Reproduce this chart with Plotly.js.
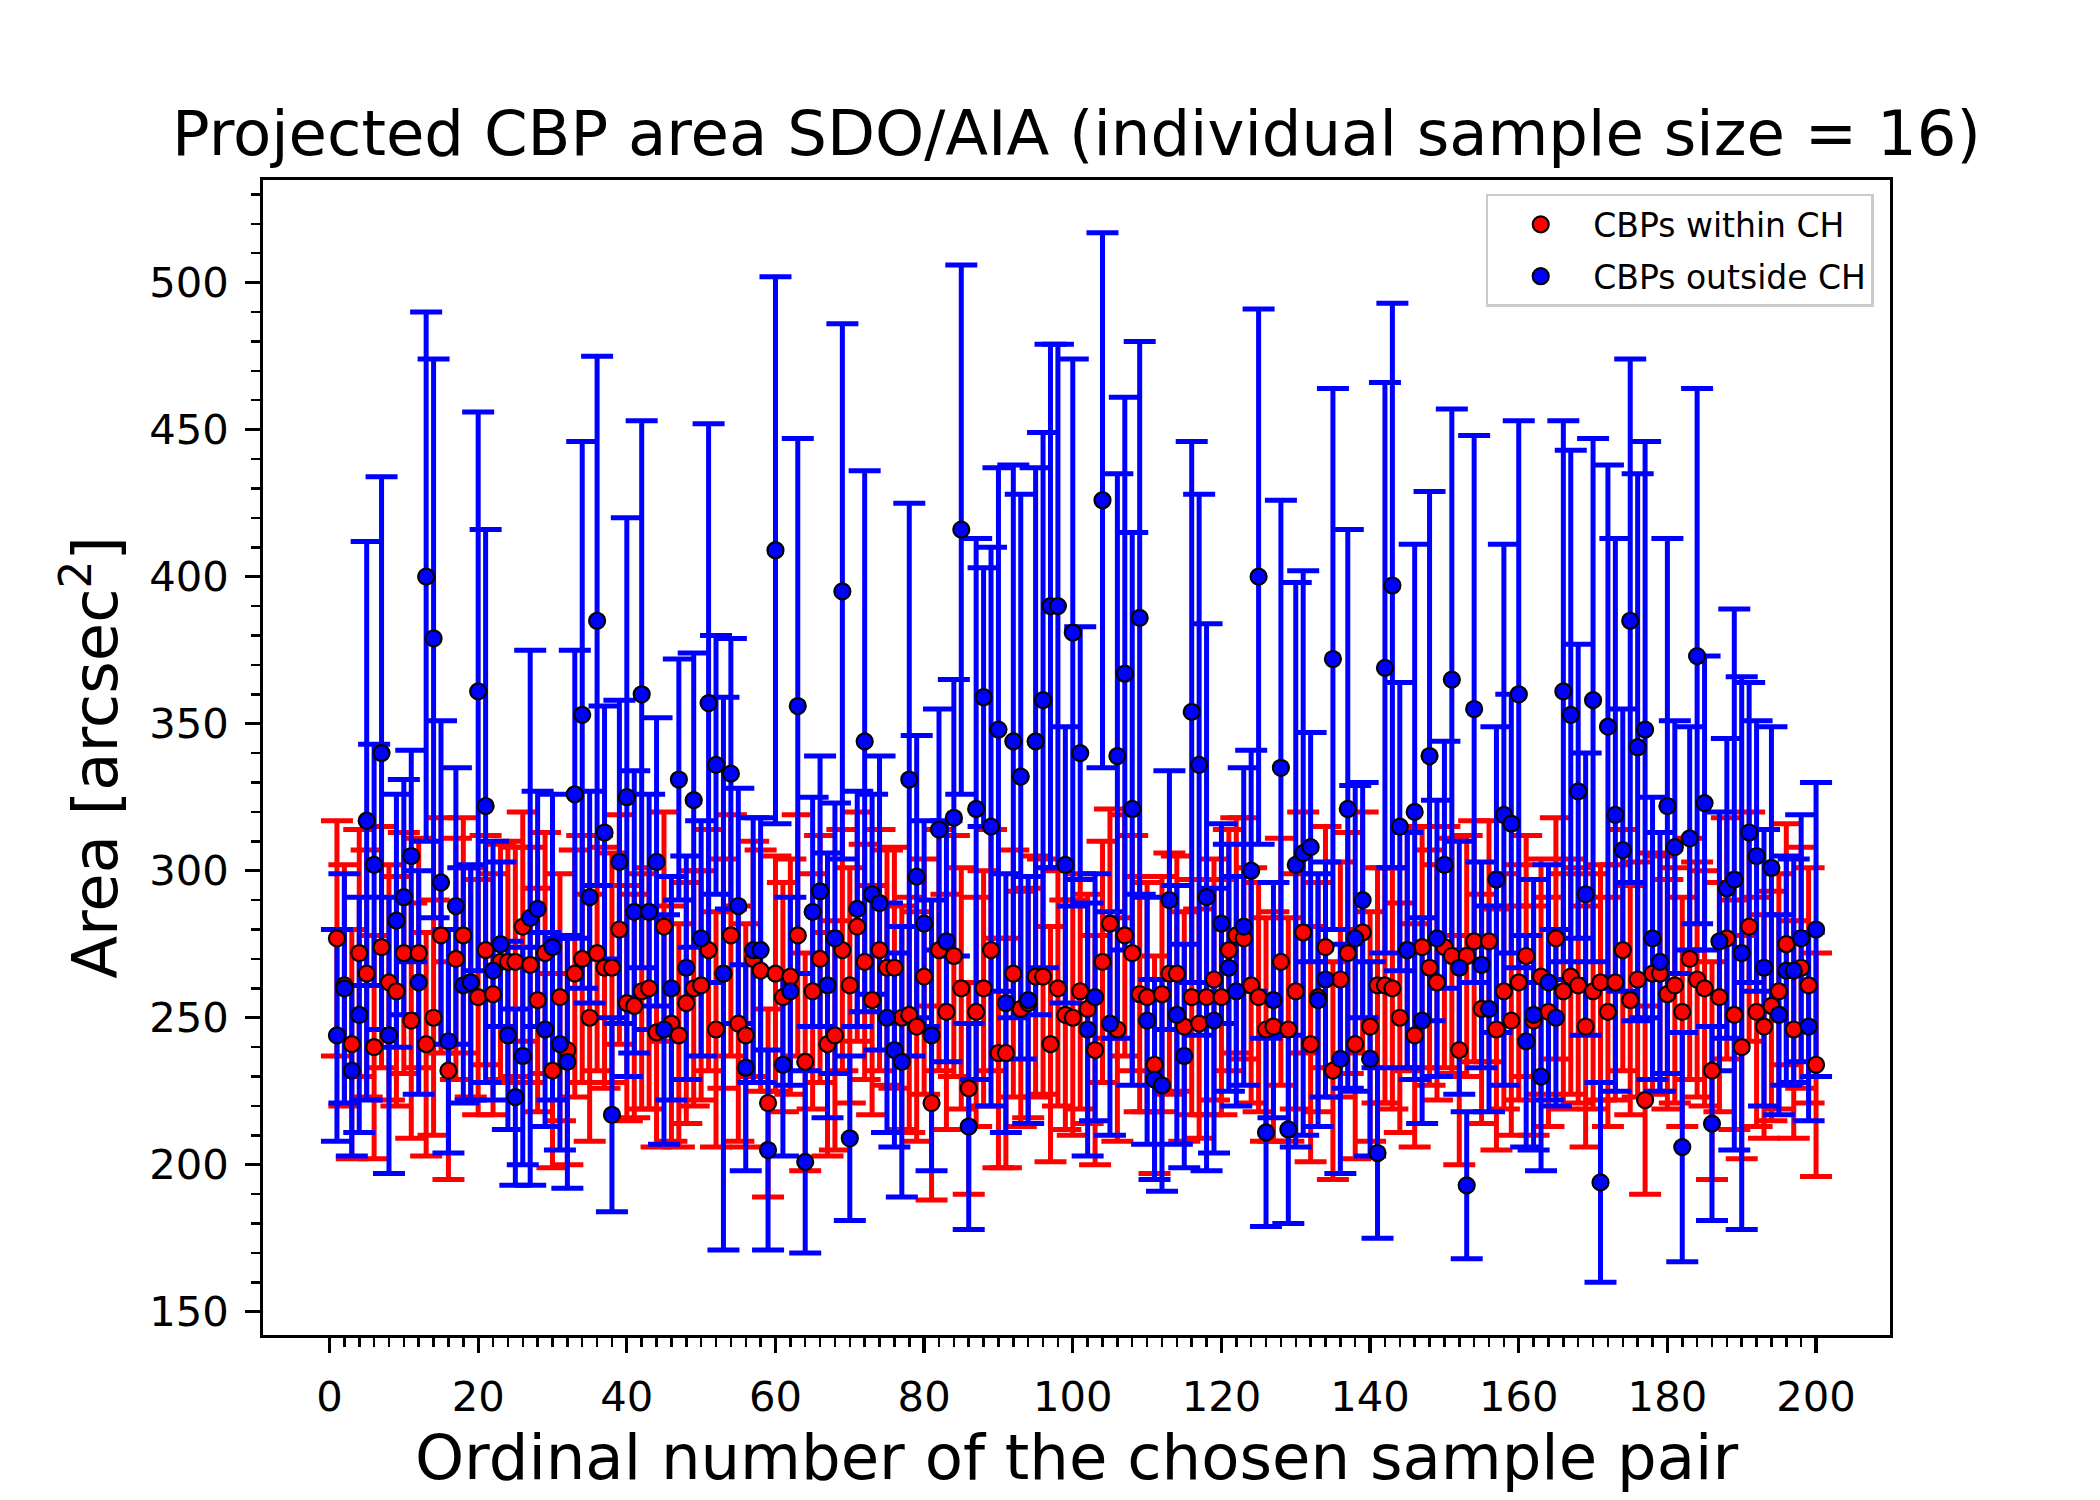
<!DOCTYPE html>
<html>
<head>
<meta charset="utf-8">
<script src="https://cdn.plot.ly/plotly-3.0.1.min.js"></script>
<style>
  html, body { margin: 0; padding: 0; background: #ffffff; }
  #chart { width: 2100px; height: 1500px; }
</style>
</head>
<body>
<div id="chart"></div>
<script>
// mean projected area of each sample (within coronal holes), arcsec^2
var within_ch = [
  277, 261, 241, 272, 265, 240, 274, 262, 259, 272, 249, 272, 241, 250, 278, 232, 270, 278, 262, 257,
  273, 258, 269, 269, 269, 281, 268, 256, 272, 232, 257, 239, 265, 270, 250, 272, 267, 267, 280, 255,
  254, 259, 260, 245, 281, 248, 244, 255, 260, 261, 273, 246, 265, 278, 248, 244, 270, 266, 221, 265,
  257, 264, 278, 235, 259, 270, 241, 244, 273, 261, 281, 269, 256, 273, 267, 267, 250, 251, 247, 264,
  221, 273, 252, 271, 260, 226, 252, 260, 273, 238, 238, 265, 253, 255, 264, 264, 241, 260, 251, 250,
  259, 253, 239, 269, 282, 246, 278, 272, 258, 257, 234, 258, 265, 265, 247, 257, 248, 257, 263, 257,
  273, 278, 277, 261, 257, 246, 247, 269, 246, 259, 279, 241, 257, 274, 232, 263, 272, 241, 279, 247,
  261, 261, 260, 250, 273, 244, 274, 267, 262, 274, 271, 239, 271, 276, 253, 276, 246, 259, 249, 262,
  271, 249, 264, 252, 277, 259, 264, 261, 247, 259, 262, 252, 262, 273, 256, 263, 222, 265, 265, 258,
  261, 252, 270, 263, 260, 232, 257, 277, 251, 240, 281, 252, 247, 254, 259, 275, 246, 267, 261, 234
];
var within_err = [
  40, 41, 39, 42, 42, 38, 41, 40, 39, 41, 40, 39, 38, 40, 40, 37, 41, 40, 39, 40,
  39, 41, 40, 41, 39, 39, 40, 38, 41, 33, 42, 39, 42, 42, 42, 40, 41, 39, 39, 40,
  38, 40, 41, 39, 39, 40, 38, 41, 40, 39, 41, 40, 39, 41, 40, 38, 40, 41, 32, 40,
  39, 40, 41, 37, 40, 42, 38, 39, 41, 40, 39, 40, 39, 41, 40, 41, 38, 40, 39, 40,
  33, 41, 40, 41, 41, 36, 39, 40, 41, 39, 39, 42, 40, 39, 41, 40, 40, 40, 39, 40,
  40, 39, 39, 41, 39, 38, 41, 40, 40, 39, 37, 40, 41, 40, 39, 40, 39, 40, 41, 40,
  41, 40, 41, 40, 39, 38, 39, 42, 38, 40, 41, 40, 39, 41, 37, 40, 41, 39, 41, 39,
  40, 40, 41, 39, 41, 38, 41, 40, 40, 41, 40, 39, 41, 41, 39, 41, 41, 40, 39, 40,
  41, 39, 40, 39, 41, 40, 40, 40, 41, 40, 40, 39, 40, 41, 39, 40, 32, 41, 40, 39,
  40, 39, 41, 40, 40, 37, 39, 41, 39, 38, 39, 39, 38, 39, 40, 41, 37, 41, 40, 38
];

// mean projected area of each sample (outside coronal holes), arcsec^2
var outside_ch = [
  244, 260, 232, 251, 317, 302, 340, 244, 283, 291, 305, 262, 400, 379, 296, 242, 288, 261, 262, 361,
  322, 266, 275, 244, 223, 237, 284, 287, 246, 274, 241, 235, 326, 353, 291, 385, 313, 217, 303, 325,
  286, 360, 286, 303, 246, 260, 331, 267, 324, 277, 357, 336, 265, 333, 288, 233, 273, 273, 205, 409,
  234, 259, 356, 201, 286, 293, 261, 277, 395, 209, 287, 344, 292, 289, 250, 239, 235, 331, 298, 282,
  244, 314, 276, 318, 416, 213, 321, 359, 315, 348, 255, 344, 332, 256, 344, 358, 390, 390, 302, 381,
  340, 246, 257, 426, 248, 339, 367, 321, 386, 249, 229, 227, 290, 251, 237, 354, 336, 291, 249, 282,
  267, 259, 281, 300, 400, 211, 256, 335, 212, 302, 306, 308, 256, 263, 372, 236, 321, 277, 290, 236,
  204, 369, 397, 315, 273, 320, 249, 339, 277, 302, 365, 267, 193, 355, 268, 253, 297, 319, 316, 360,
  242, 251, 230, 262, 250, 361, 353, 327, 292, 358, 194, 349, 319, 307, 385, 342, 348, 277, 269, 322,
  308, 206, 311, 373, 323, 214, 276, 294, 297, 272, 313, 305, 267, 301, 251, 266, 266, 277, 247, 280
];
var outside_err = [
  36, 39, 29, 40, 95, 41, 94, 47, 43, 40, 36, 38, 90, 95, 55, 38, 47, 40, 40, 95,
  94, 44, 28, 32, 30, 37, 91, 40, 33, 52, 36, 43, 49, 93, 36, 90, 43, 33, 55, 95,
  48, 93, 40, 49, 39, 38, 41, 38, 50, 40, 95, 44, 94, 46, 40, 35, 45, 45, 34, 93,
  31, 32, 91, 31, 39, 46, 45, 46, 91, 28, 40, 92, 34, 50, 39, 33, 46, 94, 48, 35,
  46, 41, 41, 47, 90, 35, 92, 44, 95, 89, 44, 94, 96, 42, 93, 91, 89, 89, 47, 93,
  43, 43, 42, 91, 38, 96, 94, 94, 94, 42, 34, 36, 44, 44, 38, 92, 92, 93, 45, 34,
  42, 39, 54, 41, 91, 32, 40, 91, 32, 96, 96, 39, 43, 40, 92, 39, 95, 52, 40, 33,
  29, 97, 96, 49, 40, 91, 35, 90, 47, 42, 92, 43, 25, 93, 35, 35, 52, 92, 44, 93,
  36, 46, 32, 40, 30, 92, 90, 50, 48, 89, 34, 89, 94, 48, 89, 93, 98, 48, 44, 91,
  43, 39, 38, 91, 50, 33, 44, 51, 92, 94, 51, 46, 47, 48, 34, 39, 38, 42, 32, 50
];

// ordinal number of each sample pair
var pair_no = within_ch.map(function(v, i){ return i + 1; });

var xTicks = [0, 20, 40, 60, 80, 100, 120, 140, 160, 180, 200];
var yTicks = [150, 200, 250, 300, 350, 400, 450, 500];
// minor ticks of the x axis only between the first and last major tick
var xMinor = [];
for (var t = 0; t <= 200; t += 2) { if (t % 20 !== 0) xMinor.push(t); }

var FONT = 'DejaVu Sans, Liberation Sans, sans-serif';

function bars(y, err, color){
    return {
        x: pair_no, y: y, type: 'scatter', mode: 'markers',
        marker: {color: 'rgba(0,0,0,0)', size: 1},
        error_y: {type: 'data', array: err, visible: true, color: color, thickness: 5, width: 16},
        showlegend: false, hoverinfo: 'skip'
    };
}
function dots(y, color, name){
    return {
        x: pair_no, y: y, type: 'scatter', mode: 'markers', name: name, legendgroup: name,
        marker: {color: color, size: 16, line: {color: '#000000', width: 2.2}}
    };
}

// all error bars go under all markers, blue drawn over red
var data = [
    bars(within_ch, within_err, '#ff0000'),
    bars(outside_ch, outside_err, '#0000ff'),
    dots(within_ch, '#ff0000', 'CBPs within CH'),
    dots(outside_ch, '#0000ff', 'CBPs outside CH')
];

var axisCommon = {
    showgrid: false, zeroline: false,
    showline: true, mirror: true, linecolor: '#000000', linewidth: 3.3,
    ticks: 'outside', ticklen: 14.6, tickwidth: 3.3, tickcolor: '#000000',
    tickfont: {family: FONT, size: 41.7, color: '#000000'},
    ticklabelstandoff: 8
};

var layout = {
    width: 2100, height: 1500,
    paper_bgcolor: '#ffffff', plot_bgcolor: '#ffffff',
    margin: {l: 263, r: 210, t: 180, b: 165, pad: 0},
    font: {family: FONT, color: '#000000'},
    title: {
        text: 'Projected CBP area SDO/AIA (individual sample size = 16)',
        font: {family: FONT, size: 62.5, color: '#000000'},
        x: 0.5, xref: 'paper', xanchor: 'center',
        y: 0.897, yref: 'container', yanchor: 'bottom'
    },
    xaxis: Object.assign({}, axisCommon, {
        range: [-8.95, 209.95],
        tickmode: 'array', tickvals: xTicks, ticktext: xTicks.map(String),
        minor: {tickmode: 'array', tickvals: xMinor, ticks: 'outside', ticklen: 8.3, tickwidth: 2.5, tickcolor: '#000000'},
        title: {text: 'Ordinal number of the chosen sample pair', standoff: 8,
                font: {family: FONT, size: 62.5, color: '#000000'}}
    }),
    yaxis: Object.assign({}, axisCommon, {
        range: [142.1, 534.9],
        tickmode: 'array', tickvals: yTicks, ticktext: yTicks.map(String),
        minor: {dtick: 10, tick0: 0, ticks: 'outside', ticklen: 8.3, tickwidth: 2.5, tickcolor: '#000000'},
        title: {text: 'Area [arcsec<sup>2</sup>]', standoff: 12,
                font: {family: FONT, size: 62.5, color: '#000000'}}
    }),
    showlegend: true,
    legend: {
        x: 0.99, y: 0.988, xanchor: 'right', yanchor: 'top',
        bgcolor: 'rgba(255,255,255,0.8)', bordercolor: '#cccccc', borderwidth: 2.5,
        font: {family: FONT, size: 33, color: '#000000'},
        traceorder: 'grouped', tracegroupgap: 6, itemsizing: 'trace', itemwidth: 95
    }
};

Plotly.newPlot('chart', data, layout, {displayModeBar: false, staticPlot: true});
</script>
</body>
</html>
